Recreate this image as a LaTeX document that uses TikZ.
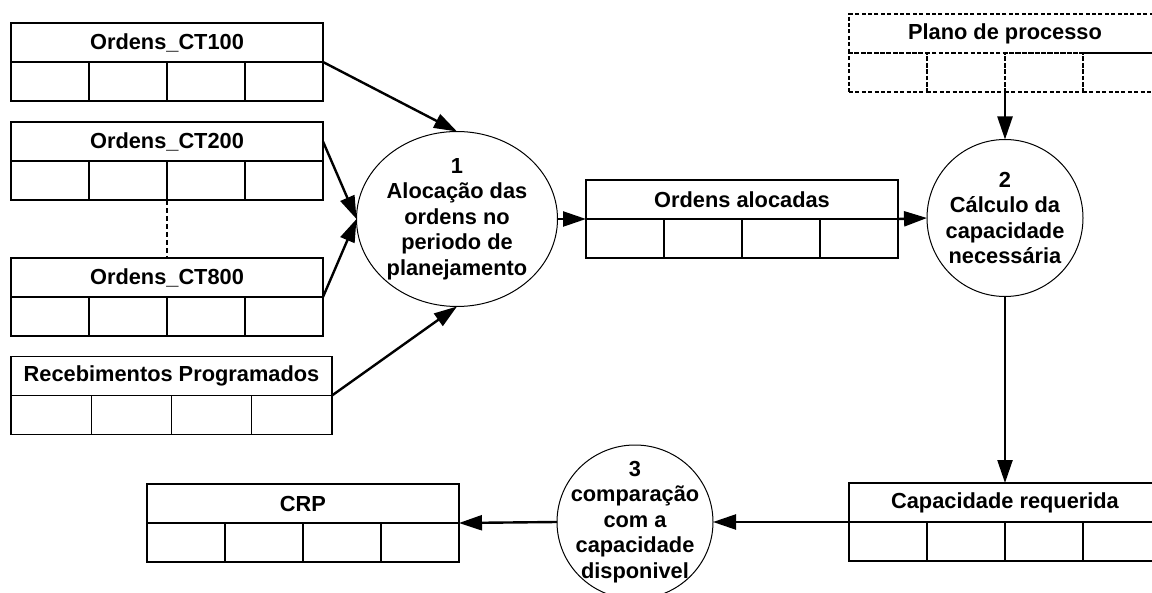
\documentclass[tikz,border=0pt]{standalone}
\usepackage{fontspec}
\setmainfont{Liberation Sans}
\usetikzlibrary{shapes.geometric, arrows.meta, positioning, calc}

\tikzset{
  storehead/.style={draw, line width=0.6pt, rectangle, inner sep=0pt, outer sep=0pt, minimum height=19.5pt, font=\bfseries\fontsize{10.9}{12.8}\selectfont},
  storecell/.style={draw, line width=0.6pt, rectangle, inner sep=0pt, outer sep=0pt, minimum height=19.5pt},
  dashedstore/.style={dash pattern=on 2pt off 1.2pt},
  procbubble/.style={draw, ellipse, line width=0.5pt, inner sep=0pt, outer sep=0pt},
  proctext/.style={align=center, inner sep=0pt, font=\bfseries\fontsize{10.9}{12.8}\selectfont},
  flow/.style={line width=1.2pt, -{Triangle[length=11.5pt, width=7.5pt]}}
}

% header node plus four cells: [opts]{name}{center of header}{cell width}{title}
\newcommand{\datastore}[5][]{%
  \node[storehead, minimum width=#4*2pt, #1] (#2) at (#3) {#5};
  \foreach \i in {1,...,4}
    \node[storecell, minimum width=#4*0.5pt, anchor=north west, #1] (#2-\i) at ($(#2.south west)+({(\i-1)*#4},0)$) {};
}

\begin{document}
\begin{tikzpicture}[x=0.5pt, y=-0.5pt]
  \useasboundingbox (0,0) rectangle (1152,593);
  \clip (0,0) rectangle (1152,593);

  \datastore{ct100}{167,42.5}{78}{Ordens\_CT100}
  \datastore{ct200}{167,141.5}{78}{Ordens\_CT200}
  \datastore{ct800}{167,277.5}{78}{Ordens\_CT800}
  \datastore{receb}{171.5,376}{80.25}{Recebimentos Programados}
  \datastore{aloc}{742,199.5}{78}{Ordens alocadas}
  \datastore[dashedstore]{plano}{1005,33.5}{78}{Plano de processo}
  \datastore{capreq}{1005,502.5}{78}{Capacidade requerida}
  \datastore{crp}{303,503.5}{78}{CRP}

  \node[procbubble, minimum width=100.5pt, minimum height=87.5pt] (proc1) at (457,219) {};
  \node[proctext] (proc1txt) at (proc1) {1\\Alocação das\\ordens no\\periodo de\\planejamento};
  \node[procbubble, minimum width=78pt, minimum height=78.5pt] (proc2) at (1005,218) {};
  \node[proctext] (proc2txt) at (proc2) {2\\Cálculo da\\capacidade\\necessária};
  \node[procbubble, minimum width=78pt, minimum height=77pt] (proc3) at (635,522) {};
  \node[proctext] (proc3txt) at (proc3) {3\\comparação\\com a\\capacidade\\disponivel};

  \draw[line width=1pt, dash pattern=on 2.5pt off 1.5pt] (ct200-2.south east) -- (ct800.north);

  \draw[flow] (ct100.south east) -- (proc1.north);
  \draw[flow] (ct200.east) -- (proc1.west);
  \draw[flow] (ct800.south east) -- (proc1.west);
  \draw[flow] (receb.south east) -- (proc1.south);
  \draw[flow] (proc1.east) -- (aloc.south west);
  \draw[flow] (aloc.south east) -- (proc2.west);
  \draw[flow] (plano-2.south east) -- (proc2.north);
  \draw[flow] (proc2.south) -- (capreq.north);
  \draw[flow] (capreq.south west) -- (proc3.east);
  \draw[flow] (proc3.west) -- (crp.south east);
\end{tikzpicture}
\end{document}
